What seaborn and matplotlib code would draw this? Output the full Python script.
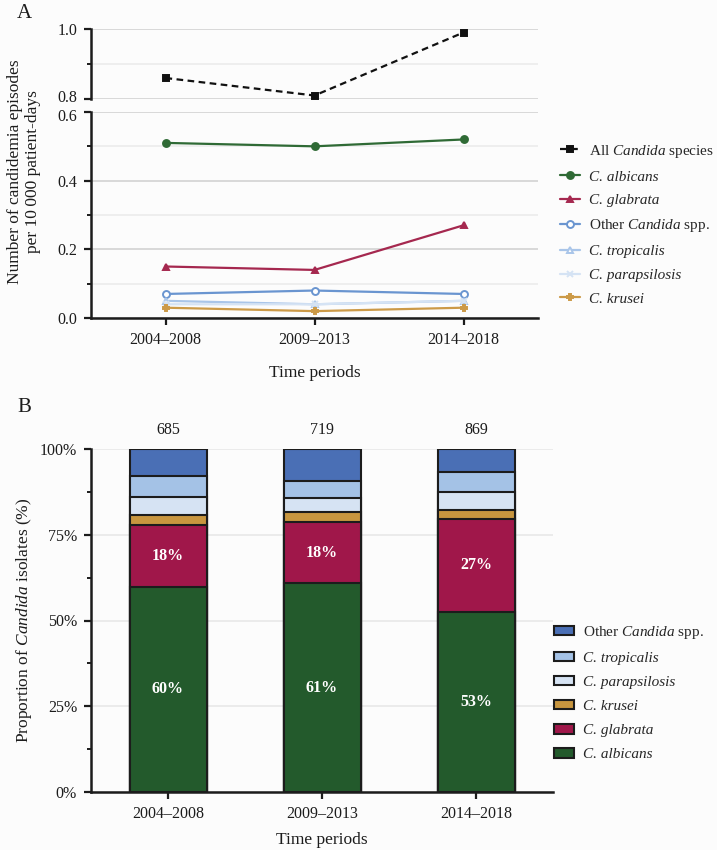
import numpy as np
import pandas as pd
import matplotlib.pyplot as plt
import seaborn as sns
from matplotlib.patches import Patch
from matplotlib.transforms import ScaledTranslation
from matplotlib.ticker import MultipleLocator, FormatStrFormatter, PercentFormatter

sns.set_theme(style="ticks")
plt.rcParams["font.family"] = ["Liberation Serif", "DejaVu Serif"]
plt.rcParams["mathtext.fontset"] = "custom"
plt.rcParams["mathtext.rm"] = "Liberation Serif"
plt.rcParams["mathtext.it"] = "Liberation Serif:italic"

periods = ["2004–2008", "2009–2013", "2014–2018"]

# panel A: candidemia episodes per 10 000 patient-days
all_species = [0.86, 0.81, 0.99]
albicans = [0.51, 0.50, 0.52]
glabrata = [0.15, 0.14, 0.27]
other_spp = [0.07, 0.08, 0.07]
tropicalis = [0.05, 0.04, 0.05]
parapsilosis = [0.04, 0.04, 0.05]
krusei = [0.03, 0.02, 0.03]

# panel B: proportion of isolates (%), plus number of isolates per period
n_isolates = [685, 719, 869]
pct_albicans = [59.9, 60.9, 52.6]
pct_glabrata = [17.8, 17.8, 26.9]
pct_krusei = [3.0, 2.8, 2.8]
pct_parapsilosis = [5.2, 4.3, 5.3]
pct_tropicalis = [6.3, 4.9, 5.6]
pct_other = [7.8, 9.3, 6.8]

bg = "#fcfcfc"
ink = "#1c1c1c"
fs = 11.5
leg_fs = 11

fig = plt.figure(figsize=(7.17, 8.5), dpi=100)
fig.patch.set_facecolor(bg)

ax_top = fig.add_axes([91/717, 1-99/850, 447/717, 70/850])
ax_low = fig.add_axes([91/717, 1-318/850, 447/717, 206/850])
ax_b = fig.add_axes([91/717, 1-792/850, 462/717, 343/850])

for ax in (ax_top, ax_low, ax_b):
    ax.set_facecolor(bg)
    for s in ("top", "right"):
        ax.spines[s].set_visible(False)
    for s in ("left", "bottom"):
        ax.spines[s].set_linewidth(1.8)
        ax.spines[s].set_color(ink)
    ax.tick_params(which="major", length=5, width=1.6, color=ink, pad=5, labelsize=fs, labelcolor=ink)
    ax.tick_params(which="minor", length=3, width=1.4, color=ink)
    ax.set_axisbelow(True)


def style_legend_texts(leg):
    # names that are wholly italic are plain strings; mixed ones use mathtext
    for t in leg.get_texts():
        if t.get_text().startswith("C. "):
            t.set_fontstyle("italic")


# ---- panel A
x = np.arange(len(periods))
lines = [
    (ax_top, "All $\\mathit{Candida}$ species", all_species, "#111111", "s", (0, (3, 2)), True),
    (ax_low, "C. albicans", albicans, "#2f6a35", "o", "-", True),
    (ax_low, "C. glabrata", glabrata, "#a5284f", "^", "-", True),
    (ax_low, "Other $\\mathit{Candida}$ spp.", other_spp, "#6a95d0", "o", "-", False),
    (ax_low, "C. tropicalis", tropicalis, "#a9c5e9", "^", "-", False),
    (ax_low, "C. parapsilosis", parapsilosis, "#d5e3f4", "x", "-", True),
    (ax_low, "C. krusei", krusei, "#cc9a48", "P", "-", True),
]
handles, labels = [], []
for ax, lab, vals, col, mk, ls, filled in lines:
    df = pd.DataFrame({"period": x, "rate": vals})
    sns.lineplot(data=df, x="period", y="rate", ax=ax, color=col, marker=mk,
                 linestyle=ls, linewidth=1.6, markersize=5,
                 markerfacecolor=col if filled else "white", markeredgecolor=col,
                 markeredgewidth=1.4, legend=False, label=lab)
    handles.append(ax.get_lines()[-1])
    labels.append(lab)

ax_top.set_ylim(0.8, 1.0)
ax_top.yaxis.set_major_locator(MultipleLocator(0.2))
ax_top.yaxis.set_minor_locator(MultipleLocator(0.1))
ax_top.spines["bottom"].set_visible(False)
ax_top.tick_params(axis="x", which="both", bottom=False, labelbottom=False)

ax_low.set_ylim(0, 0.6)
ax_low.yaxis.set_major_locator(MultipleLocator(0.2))
ax_low.yaxis.set_minor_locator(MultipleLocator(0.1))
ax_low.set_xticks(x, periods)

for ax in (ax_top, ax_low):
    ax.set_xlim(-0.5, 2.5)
    ax.yaxis.set_major_formatter(FormatStrFormatter("%.1f"))
    ax.grid(axis="y", which="major", color="#d6d6d6", linewidth=1.3)
    ax.grid(axis="y", which="minor", color="#ebebeb", linewidth=1.1)
    ax.set_ylabel("")
    ax.set_xlabel("")
ax_low.set_xlabel("Time periods", fontsize=12.5, labelpad=12, color=ink)

# the 0.8 and 0.6 labels sit right against each other at the axis break
fig.canvas.draw()
for lbl in ax_top.get_yticklabels():
    if lbl.get_text() == "0.8":
        lbl.set_transform(lbl.get_transform() + ScaledTranslation(0, 2/72, fig.dpi_scale_trans))
for lbl in ax_low.get_yticklabels():
    if lbl.get_text() == "0.6":
        lbl.set_transform(lbl.get_transform() + ScaledTranslation(0, -2/72, fig.dpi_scale_trans))

fig.text(24/717, 1-172/850, "Number of candidemia episodes\nper 10\u2009000 patient-days",
         rotation=90, ha="center", va="center", multialignment="center", fontsize=12.5, color=ink)

leg_a = fig.legend(handles, labels, loc="upper left", bbox_to_anchor=(546/717, 1-129/850),
                   frameon=False, fontsize=leg_fs, handlelength=1.3, handletextpad=0.6,
                   labelspacing=0.66)
style_legend_texts(leg_a)

# ---- panel B: stacked bars drawn as overlaid cumulative bars
stack = [
    ("C. albicans", pct_albicans, "#235a2c"),
    ("C. glabrata", pct_glabrata, "#a0174a"),
    ("C. krusei", pct_krusei, "#c8963f"),
    ("C. parapsilosis", pct_parapsilosis, "#d6e3f3"),
    ("C. tropicalis", pct_tropicalis, "#a4c2e6"),
    ("Other $\\mathit{Candida}$ spp.", pct_other, "#4a6fb5"),
]
cum = np.cumsum([s[1] for s in stack], axis=0)
for i in range(len(stack) - 1, -1, -1):
    sns.barplot(x=periods, y=cum[i], color=stack[i][2], saturation=1, width=0.5,
                edgecolor=ink, linewidth=1.5, errorbar=None, ax=ax_b)

for j in range(len(periods)):
    for k in (0, 1):
        base = cum[k - 1][j] if k > 0 else 0
        val = stack[k][1][j]
        ax_b.text(j, base + val / 2, f"{round(val)}%", ha="center", va="center",
                  color="white", fontsize=fs, fontweight="bold")
    ax_b.annotate(str(n_isolates[j]), (j, 100), xytext=(0, 14), textcoords="offset points",
                  ha="center", va="center", fontsize=fs, color=ink, annotation_clip=False)

ax_b.set_xlim(-0.5, 2.5)
ax_b.set_ylim(0, 100)
ax_b.yaxis.set_major_locator(MultipleLocator(25))
ax_b.yaxis.set_minor_locator(MultipleLocator(12.5))
ax_b.yaxis.set_major_formatter(PercentFormatter(100, decimals=0))
ax_b.grid(axis="y", which="major", color="#e6e6e6", linewidth=1.1)
ax_b.set_ylabel("")
ax_b.set_xlabel("Time periods", fontsize=12.5, labelpad=7, color=ink)

fig.text(24/717, 1-620/850, "Proportion of $\\mathit{Candida}$ isolates (%)",
         rotation=90, ha="center", va="center", fontsize=12.5, color=ink)

leg_handles = [Patch(facecolor=c, edgecolor=ink, linewidth=1.5) for _, _, c in stack[::-1]]
leg_labels = [lab for lab, _, _ in stack[::-1]]
leg_b = fig.legend(leg_handles, leg_labels, loc="upper left", bbox_to_anchor=(540/717, 1-610/850),
                   frameon=False, fontsize=leg_fs, handlelength=1.3, handleheight=0.6,
                   handletextpad=0.6, labelspacing=0.71)
style_legend_texts(leg_b)

fig.text(17/717, 1-13/850, "A", fontsize=15, va="center", color=ink)
fig.text(17/717, 1-408/850, "B", fontsize=15, va="center", color=ink)

fig.savefig("out.png", dpi=100, facecolor=bg)
